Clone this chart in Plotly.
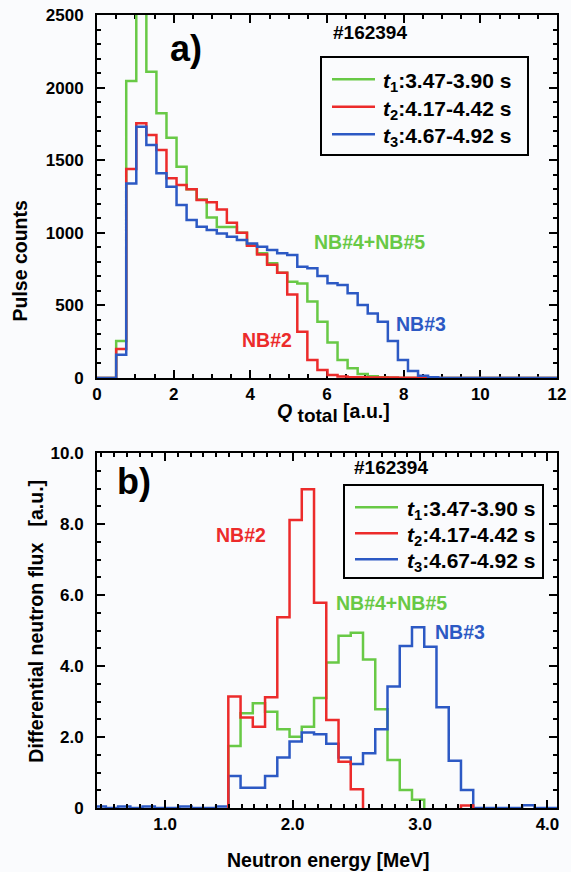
import numpy as np
import plotly.graph_objects as go
from plotly.subplots import make_subplots

# ---------------- Panel a) : pulse-count histograms vs Q_total ----------------
q_bin_start = -0.025
q_bin_width = 0.2625
q_n_bins = 46
q_green = [0, 0, 255, 2045, 2550, 2110, 1823, 1655, 1455, 1300, 1230, 1105, 1040, 1040,
           1000, 915, 860, 790, 725, 663, 650, 526, 388, 245, 124, 67, 28, 12, 5, 2]
q_red = [0, 0, 200, 1440, 1754, 1674, 1570, 1375, 1329, 1300, 1226, 1210, 1160, 1070,
         1000, 910, 850, 780, 725, 575, 319, 124, 55, 20, 10, 6, 5, 4, 3, 3, 2, 1]
q_blue = [0, 0, 160, 1340, 1731, 1605, 1410, 1318, 1191, 1088, 1042, 1019, 996, 973,
          950, 927, 904, 882, 859, 847, 767, 755, 702, 652, 641, 583, 503, 445, 388, 255,
          124, 48, 16, 5]
q_xticks = [0, 2, 4, 6, 8, 10, 12]
q_yticks = [0, 500, 1000, 1500, 2000, 2500]

# ---------------- Panel b) : differential neutron flux vs energy ----------------
e_bin_start = 0.4384
e_bin_width = 0.0961
e_n_bins = 38
N = None
e_green = [N] * 11 + [1.75, 2.67, 2.95, 2.71, 2.22, 2.01, 2.29, 3.10, 4.10, 4.85, 4.94,
                      4.18, 2.78, 1.35, 0.51, 0.23]
e_red = [N] * 11 + [3.14, 2.55, 2.29, 3.12, 5.37, 8.11, 8.98, 5.78, 2.48, 1.30, 0.53,
                    N, N, N, N, N, N, N, N, 0.07]
e_blue = [0.04, 0, 0.04, 0, 0.04, 0, 0, 0.04, 0, 0, 0.04,
          0.90, 0.57, 0.57, 0.90, 1.42, 1.87, 2.13, 2.08, 1.81, 1.42, 1.24,
          1.54, 2.22, 3.42, 4.56, 5.09, 4.54, 2.84, 1.33, 0.51,
          0, 0, 0, 0, 0.08, 0, 0]
e_xticks = [1.0, 2.0, 3.0, 4.0]
e_xticktext = ["1.0", "2.0", "3.0", "4.0"]
e_yticks = [0, 2, 4, 6, 8, 10]
e_yticktext = ["0", "2.0", "4.0", "6.0", "8.0", "10.0"]

series_names = ["<i>t</i><sub>1</sub>:3.47-3.90 s",
                "<i>t</i><sub>2</sub>:4.17-4.42 s",
                "<i>t</i><sub>3</sub>:4.67-4.92 s"]
GREEN = "#68C946"
RED = "#EC2B2B"
BLUE = "#2C59C4"
SERIES_COLORS = [GREEN, RED, BLUE]
FONT = "Liberation Sans, Arial, Helvetica, sans-serif"

# figure geometry (pixels)
W, H = 571, 872
ML, MR, MT, MB = 97, 14, 15, 64
PW, PH = W - ML - MR, H - MT - MB


def px(x):
    return (x - ML) / PW


def py(y):
    return (H - MB - y) / PH


def pad(vals, n):
    return list(vals) + [0] * (n - len(vals))


def pad_none(vals, n):
    return list(vals) + [None] * (n - len(vals))


def step_xy(edges, vals):
    xs, ys = [], []
    run = False
    for i, v in enumerate(vals):
        if v is None:
            if run:
                xs += [edges[i], None]
                ys += [0, None]
                run = False
            continue
        if not run:
            xs.append(edges[i]); ys.append(0)
            run = True
        xs.append(edges[i]); ys.append(v)
    if run:
        xs.append(edges[len(vals)]); ys.append(0)
    return xs, ys


q_edges = q_bin_start + q_bin_width * np.arange(q_n_bins + 1)
e_edges = e_bin_start + e_bin_width * np.arange(e_n_bins + 1)

fig = make_subplots(rows=2, cols=1)

# panel a: draw green, red, blue
for vals, col in [(q_green, GREEN), (q_red, RED), (q_blue, BLUE)]:
    xs, ys = step_xy(q_edges, pad(vals, q_n_bins))
    fig.add_trace(go.Scatter(x=xs, y=ys, mode="lines", line=dict(color=col, width=2.5, shape="hv"),
                             showlegend=False, hoverinfo="skip"), row=1, col=1)

# panel b: draw green, blue, red
for vals, col, filler in [(e_green, GREEN, pad_none), (e_blue, BLUE, pad), (e_red, RED, pad_none)]:
    xs, ys = step_xy(e_edges, filler(vals, e_n_bins))
    fig.add_trace(go.Scatter(x=xs, y=ys, mode="lines", line=dict(color=col, width=2.5, shape="hv"),
                             showlegend=False, hoverinfo="skip", connectgaps=False),
                  row=2, col=1)

axis_common = dict(showline=True, linecolor="black", linewidth=2, mirror="ticks",
                   ticks="inside", ticklen=8, tickwidth=1.5, tickcolor="black",
                   showgrid=False, zeroline=False, automargin=False,
                   tickfont=dict(family=FONT, size=17, weight="bold", color="black"),
                   minor=dict(ticks="inside", ticklen=4, tickwidth=1.5, tickcolor="black",
                              showgrid=False))

fig.update_xaxes(axis_common)
fig.update_yaxes(axis_common)

fig.update_xaxes(range=[0, 12], tickvals=q_xticks, minor_dtick=0.5, minor_tick0=0,
                 domain=[0, 1], layer="below traces", row=1, col=1)
fig.update_yaxes(range=[0, 2500], tickvals=q_yticks, minor_dtick=100, minor_tick0=0,
                 domain=[py(378), 1], ticklabelstandoff=8, layer="below traces", row=1, col=1)
fig.update_xaxes(range=[0.465, 4.075], tickvals=e_xticks, ticktext=e_xticktext,
                 minor_dtick=0.1, minor_tick0=0, domain=[0, 1], layer="above traces",
                 row=2, col=1)
fig.update_yaxes(range=[0, 10], tickvals=e_yticks, ticktext=e_yticktext,
                 minor_dtick=0.5, minor_tick0=0, domain=[0, py(453)], ticklabelstandoff=8,
                 layer="above traces", row=2, col=1)

fig.update_layout(
    width=W, height=H,
    margin=dict(l=ML, r=MR, t=MT, b=MB, autoexpand=False),
    paper_bgcolor="#FAFBFD", plot_bgcolor="#FAFBFD",
    font=dict(family=FONT, weight="bold", color="black"),
    showlegend=False,
)


def ann(text, x, y, size, color="black", xref="x", yref="y", **kw):
    kw.setdefault("xanchor", "center")
    kw.setdefault("yanchor", "middle")
    fig.add_annotation(text=text, x=x, y=y, xref=xref, yref=yref, showarrow=False,
                       font=dict(family=FONT, size=size, color=color, weight="bold"), **kw)


# legend boxes (key lines + text), laid out in pixels
def legend_box(left, top, right, bottom, line_x0, line_x1, text_x, rows_y):
    fig.add_shape(type="rect", xref="paper", yref="paper", x0=px(left), x1=px(right),
                  y0=py(bottom), y1=py(top), line=dict(color="black", width=2),
                  fillcolor="rgba(0,0,0,0)")
    for name, col, yy in zip(series_names, SERIES_COLORS, rows_y):
        fig.add_shape(type="line", xref="paper", yref="paper", x0=px(line_x0), x1=px(line_x1),
                      y0=py(yy), y1=py(yy), line=dict(color=col, width=2.5))
        ann(name, px(text_x), py(yy + 3), 21, xref="paper", yref="paper", xanchor="left")


legend_box(321, 57, 528, 155, 332, 375, 381, (79.3, 106.7, 134.3))
legend_box(344, 485, 543, 578, 355, 398, 405, (507.3, 533.3, 559.3))

# panel a labels
ann("a)", 2.33, 2270, 36)
ann("#162394", 7.12, 2380, 19)
ann("NB#4+NB#5", 7.12, 940, 19.5, GREEN)
ann("NB#2", 4.43, 265, 19.5, RED)
ann("NB#3", 8.45, 370, 19.5, BLUE)
# panel b labels
ann("b)", 0.759, 9.2, 36, xref="x2", yref="y2")
ann("#162394", 2.776, 9.6, 19, xref="x2", yref="y2")
ann("NB#2", 1.594, 7.7, 19.5, RED, xref="x2", yref="y2")
ann("NB#4+NB#5", 2.778, 5.78, 19.5, GREEN, xref="x2", yref="y2")
ann("NB#3", 3.314, 4.96, 19.5, BLUE, xref="x2", yref="y2")

# axis titles
ann("Pulse counts", px(19.5), py(261), 19.5, xref="paper", yref="paper", textangle=-90)
ann("<i>Q</i> <sub><span style='font-size:19px'>total</span></sub> [a.u.]", px(333), py(398),
    19.5, xref="paper", yref="paper", yanchor="top")
ann("Differential neutron flux&nbsp;&nbsp;&nbsp;[a.u.]", px(36), py(621.7), 19.5,
    xref="paper", yref="paper", textangle=-90)
ann("Neutron energy [MeV]", px(328.5), py(860), 19.5, xref="paper", yref="paper")

fig.write_html("out.html", config={"displayModeBar": False},
               post_script="document.body.style.margin='0px';document.body.style.overflow='hidden';")
